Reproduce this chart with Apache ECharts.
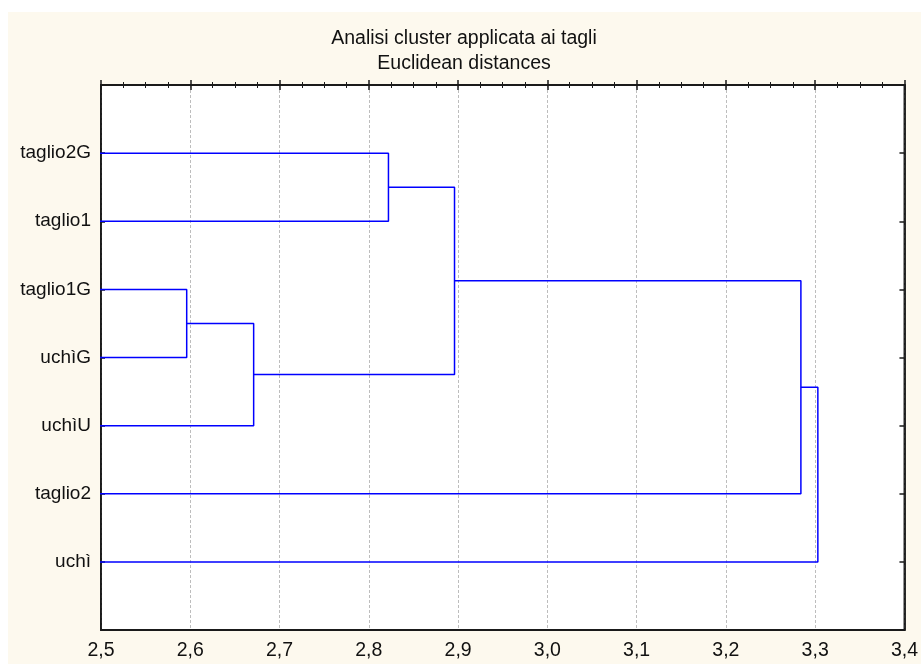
<!DOCTYPE html>
<html>
<head>
<meta charset="utf-8">
<script src="https://cdn.jsdelivr.net/npm/echarts@6/dist/echarts.min.js"></script>
<style>
html,body{margin:0;padding:0;background:#ffffff;}
#chart{width:921px;height:664px;}
</style>
</head>
<body>
<div id="chart"></div>
<script>
// Leaves from top to bottom
var leaves = ['taglio2G', 'taglio1', 'taglio1G', 'uchìG', 'uchìU', 'taglio2', 'uchì'];
// Merges: [left child, right child, linkage distance]; children are leaf names or cluster ids 'c1'..
var mergeLeft   = ['taglio2G', 'taglio1G', 'c2',    'c1',    'c4',    'c5'];
var mergeRight  = ['taglio1',  'uchìG',    'uchìU', 'c3',    'taglio2', 'uchì'];
var mergeHeight = [2.822,      2.596,      2.671,   2.896,   3.284,   3.303];
var xTicks = [2.5, 2.6, 2.7, 2.8, 2.9, 3.0, 3.1, 3.2, 3.3, 3.4];
var titleText = 'Analisi cluster applicata ai tagli';
var subtitleText = 'Euclidean distances';

var nodePos = {}, nodeH = {};
leaves.forEach(function (n, i) { nodePos[n] = i + 1; nodeH[n] = 0; });
var series = [];
for (var k = 0; k < mergeHeight.length; k++) {
  var a = mergeLeft[k], b = mergeRight[k], h = mergeHeight[k];
  var ya = nodePos[a], yb = nodePos[b];
  series.push({
    type: 'line', silent: true, showSymbol: false, symbol: 'none', clip: true, animation: false,
    lineStyle: { color: '#0000ff', width: 1.5 },
    data: [[nodeH[a], ya], [h, ya], [h, yb], [nodeH[b], yb]]
  });
  var id = 'c' + (k + 1);
  nodePos[id] = (ya + yb) / 2;
  nodeH[id] = h;
}

var chart = echarts.init(document.getElementById('chart'), null, { renderer: 'canvas' });
var fmt = function (v) { return v.toFixed(1).replace('.', ','); };
var axLine = { show: true, lineStyle: { color: '#1a1a1a', width: 1.8 } };
var FONT = 'Liberation Sans, Arial, sans-serif';
var option = {
  backgroundColor: '#ffffff',
  animation: false,
  textStyle: { fontFamily: FONT },
  graphic: [{
    type: 'rect', z: -10, silent: true,
    shape: { x: 8, y: 12, width: 913, height: 652 },
    style: { fill: '#fdf9ee' }
  }],
  title: {
    text: titleText + '\n' + subtitleText,
    left: 464, top: 26, textAlign: 'center', padding: 0,
    textStyle: { fontSize: 19.5, fontWeight: 'normal', color: '#111', lineHeight: 25, fontFamily: FONT }
  },
  grid: {
    left: 101, top: 85, right: 14, bottom: 34, show: true,
    backgroundColor: '#ffffff', borderColor: '#1a1a1a', borderWidth: 1.8
  },
  xAxis: [{
    type: 'value', position: 'bottom', min: xTicks[0], max: xTicks[xTicks.length - 1], interval: 0.1,
    axisLine: axLine,
    axisTick: { show: true, inside: true, length: 5, lineStyle: { color: '#1a1a1a', width: 1.5 } },
    minorTick: { show: true, splitNumber: 4, length: 3, lineStyle: { color: '#1a1a1a', width: 1 } },
    splitLine: { show: true, lineStyle: { color: '#bdbdbd', type: [3, 2], width: 1 } },
    axisLabel: { formatter: fmt, fontSize: 19.5, color: '#111', margin: 11, showMinLabel: true, showMaxLabel: true }
  }, {
    type: 'value', position: 'top', min: xTicks[0], max: xTicks[xTicks.length - 1], interval: 0.1,
    axisLine: axLine,
    axisTick: { show: true, inside: true, length: 5, lineStyle: { color: '#1a1a1a', width: 1.5 } },
    minorTick: { show: true, splitNumber: 4, length: 3, lineStyle: { color: '#1a1a1a', width: 1 } },
    splitLine: { show: false },
    axisLabel: { show: false }
  }],
  yAxis: [{
    type: 'value', position: 'left', inverse: true, min: 0, max: leaves.length + 1, interval: 1,
    axisLine: axLine,
    axisTick: { show: true, inside: true, length: 4, lineStyle: { color: '#1a1a1a', width: 1.5 } },
    splitLine: { show: false },
    axisLabel: {
      fontSize: 19, color: '#111', margin: 10,
      formatter: function (v) { return leaves[v - 1] || ''; }
    }
  }, {
    type: 'value', position: 'right', inverse: true, min: 0, max: leaves.length + 1, interval: 1,
    axisLine: axLine,
    axisTick: { show: true, inside: true, length: 5, lineStyle: { color: '#1a1a1a', width: 1.5 } },
    splitLine: { show: false },
    axisLabel: { show: false }
  }],
  series: series
};
chart.setOption(option);
</script>
</body>
</html>
